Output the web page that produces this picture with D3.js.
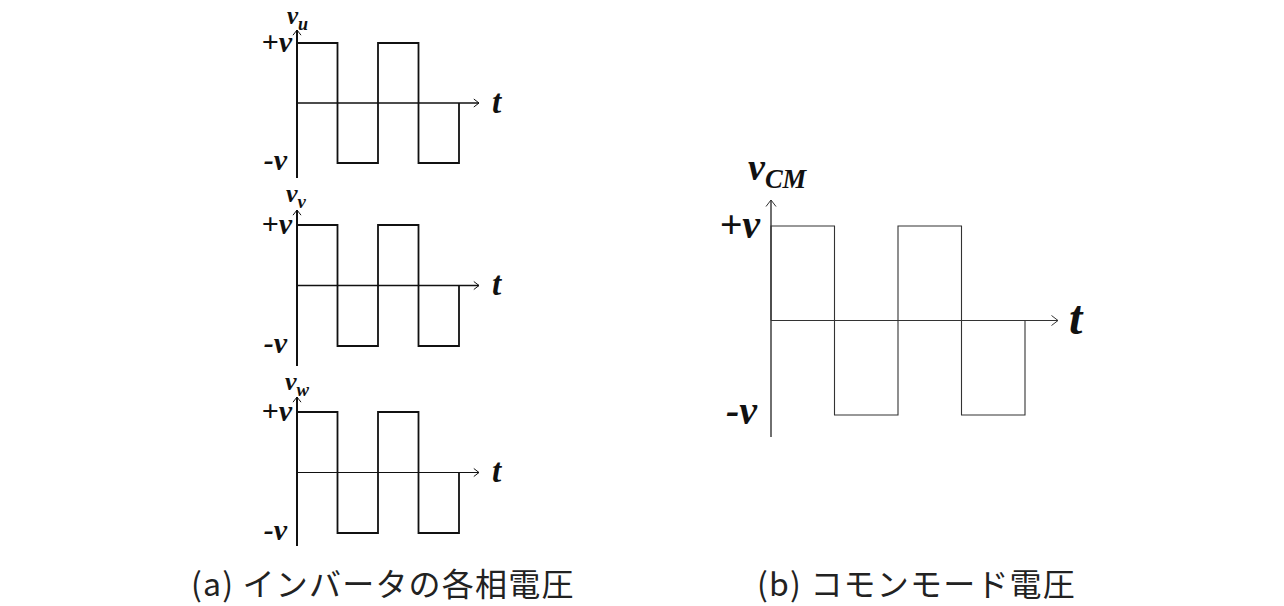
<!DOCTYPE html>
<html><head><meta charset="utf-8">
<script src="https://cdn.jsdelivr.net/npm/d3@7"></script>
<style>body{margin:0;background:#fff}svg{display:block}</style>
</head><body>
<svg id="c" width="1284" height="606"></svg>
<script>
// ---- data ----
const timeBreaks = [0, 1, 2, 3, 4];          // switching instants (half periods)
const levelsU  = [1, -1, 1, -1];             // v_u per half period
const levelsV  = [1, -1, 1, -1];             // v_v
const levelsW  = [1, -1, 1, -1];             // v_w
const levelsCM = [1, -1, 1, -1];             // v_CM
const tickLabels = ["+v", "-v"];
const captions = ["(a) インバータの各相電圧", "(b) コモンモード電圧"];

const svg = d3.select("#c");
const serif = "'Liberation Serif','DejaVu Serif',serif";

function wavePoints(levels) {
  const pts = [[timeBreaks[0], 0]];
  levels.forEach((lv, i) => {
    pts.push([timeBreaks[i], lv]);
    pts.push([timeBreaks[i + 1], lv]);
  });
  pts.push([timeBreaks[timeBreaks.length - 1], 0]);
  return pts;
}

function panel(o) {
  const x = d3.scaleLinear().domain([0, 4]).range([o.x0, o.x1]);
  const y = d3.scaleLinear().domain([-1, 1]).range([o.yNeg, o.yPos]);
  const g = svg.append("g");
  const stroke = o.color;
  g.append("line").attr("x1", x(0)).attr("x2", x(0))
    .attr("y1", o.yTop).attr("y2", o.yBot)
    .attr("stroke", stroke).attr("stroke-width", o.axisW);
  g.append("line").attr("x1", x(0)).attr("x2", o.xEnd)
    .attr("y1", y(0)).attr("y2", y(0))
    .attr("stroke", stroke).attr("stroke-width", o.xAxisW);
  const a = o.arrow;
  g.append("path").attr("d", `M${x(0) - a},${o.yTop + a * 1.3} L${x(0)},${o.yTop} L${x(0) + a},${o.yTop + a * 1.3}`)
    .attr("fill", "none").attr("stroke", stroke).attr("stroke-width", 1);
  g.append("path").attr("d", `M${o.xEnd - a * 1.3},${y(0) - a} L${o.xEnd},${y(0)} L${o.xEnd - a * 1.3},${y(0) + a}`)
    .attr("fill", "none").attr("stroke", stroke).attr("stroke-width", 1);
  const line = d3.line().x(d => x(d[0])).y(d => y(d[1]));
  g.append("path").attr("d", line(wavePoints(o.levels)))
    .attr("fill", "none").attr("stroke", stroke).attr("stroke-width", o.lineW)
    .attr("stroke-linejoin", "miter");
  const lab = (txt, xx, yy, fs) => g.append("text").attr("x", xx).attr("y", yy)
    .attr("font-family", serif).attr("font-weight", "bold").attr("font-style", "italic")
    .attr("font-size", fs).attr("fill", "#111").attr("text-anchor", "end").text(txt);
  lab(tickLabels[0], x(0) - 3 + o.plusDx, y(1) + o.fs * 0.3, o.fs);
  lab(tickLabels[1], x(0) + o.minusDx, y(-1) + o.fs * 0.22, o.fs);
  g.append("text").attr("x", o.tX).attr("y", y(0) + o.fs * 0.33)
    .attr("font-family", serif).attr("font-weight", "bold").attr("font-style", "italic")
    .attr("font-size", o.fs * o.tScale).attr("fill", "#111").text("t");
  const t = g.append("text").attr("x", o.nameX).attr("y", o.nameY)
    .attr("font-family", serif).attr("font-weight", "bold").attr("font-style", "italic")
    .attr("font-size", o.nameFs).attr("fill", "#111");
  t.append("tspan").text("v");
  t.append("tspan").attr("dy", o.nameFs * 0.22).attr("font-size", o.nameFs * o.subScale).text(o.sub);
}

const small = { x0: 297, x1: 459, xEnd: 479, color: "#111", axisW: 2, xAxisW: 1.6, lineW: 1.8,
  arrow: 4, fs: 30, tX: 492, tScale: 1.1, nameFs: 26, subScale: 0.72, plusDx: -2, minusDx: -10 };

panel(Object.assign({}, small, { yPos: 43, yNeg: 163, yTop: 30, yBot: 178, levels: levelsU, sub: "u", nameX: 287, nameY: 24, nameFs: 25 }));
panel(Object.assign({}, small, { yPos: 225, yNeg: 346, yTop: 210, yBot: 366, levels: levelsV, sub: "v", nameX: 286, nameY: 202 }));
panel(Object.assign({}, small, { yPos: 412, yNeg: 533, yTop: 397, yBot: 546, levels: levelsW, sub: "w", nameX: 285, nameY: 390, xAxisW: 1 }));

panel({ x0: 771, x1: 1025, xEnd: 1058, yPos: 226, yNeg: 415, yTop: 200, yBot: 437,
  color: "#333", axisW: 1.4, xAxisW: 1, lineW: 1.1, arrow: 5, fs: 40, tX: 1069, tScale: 1.2, nameFs: 38, subScale: 0.7,
  plusDx: -8, minusDx: -14, levels: levelsCM, sub: "CM", nameX: 748, nameY: 180 });

const capX = [191, 757];
captions.forEach((c, i) => {
  svg.append("text").attr("x", capX[i]).attr("y", 596)
    .attr("font-family", "'Noto Sans CJK JP','Noto Sans',sans-serif")
    .attr("font-size", 32).attr("letter-spacing", 1.2).attr("fill", "#222").text(c);
});
</script>
</body></html>
